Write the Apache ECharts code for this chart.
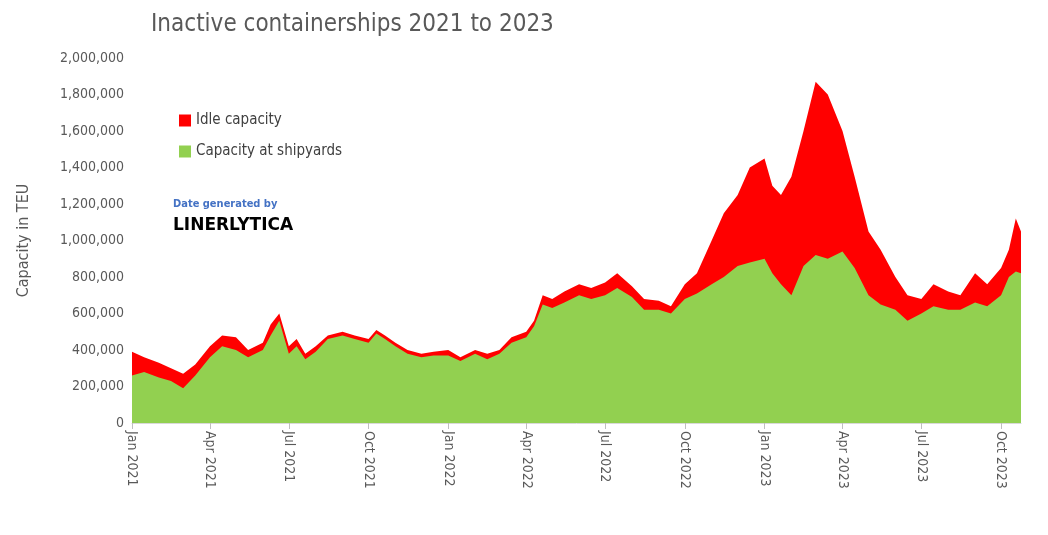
<!DOCTYPE html>
<html><head><meta charset="utf-8">
<script src="https://cdn.jsdelivr.net/npm/echarts@6/dist/echarts.min.js"></script>
<style>body{margin:0}#c{width:1048px;height:535px}</style></head>
<body><div id="c"></div>
<script>
const dates=["2021-01-01","2021-01-15","2021-02-01","2021-02-15","2021-03-01","2021-03-15","2021-04-01","2021-04-15","2021-05-01","2021-05-15","2021-06-01","2021-06-10","2021-06-20","2021-07-01","2021-07-10","2021-07-20","2021-08-01","2021-08-15","2021-09-01","2021-09-15","2021-10-01","2021-10-10","2021-10-20","2021-11-01","2021-11-15","2021-12-01","2021-12-15","2022-01-01","2022-01-15","2022-02-01","2022-02-15","2022-03-01","2022-03-15","2022-04-01","2022-04-10","2022-04-20","2022-05-01","2022-05-15","2022-06-01","2022-06-15","2022-07-01","2022-07-15","2022-08-01","2022-08-15","2022-09-01","2022-09-15","2022-10-01","2022-10-15","2022-11-01","2022-11-15","2022-12-01","2022-12-15","2023-01-01","2023-01-10","2023-01-20","2023-02-01","2023-02-15","2023-03-01","2023-03-15","2023-04-01","2023-04-15","2023-05-01","2023-05-15","2023-06-01","2023-06-15","2023-07-01","2023-07-15","2023-08-01","2023-08-15","2023-09-01","2023-09-15","2023-10-01","2023-10-10","2023-10-18","2023-10-24"];
const totalK=[390,360,330,300,270,320,420,480,470,400,440,540,600,420,460,380,420,480,500,480,460,510,480,440,400,380,390,400,360,400,380,400,470,500,560,700,680,720,760,740,770,820,750,680,670,640,760,820,1000,1150,1250,1400,1450,1300,1250,1350,1600,1870,1800,1600,1350,1050,950,800,700,680,760,720,700,820,760,850,950,1120,1050];
const shipyardK=[260,280,250,230,190,260,360,420,400,360,400,480,560,380,420,350,390,460,480,460,440,490,460,420,380,360,370,370,340,380,350,380,440,470,530,650,630,660,700,680,700,740,690,620,620,600,680,710,760,800,860,880,900,820,760,700,860,920,900,940,850,700,650,620,560,600,640,620,620,660,640,700,800,830,820];
const tickDates=["2021-01-01","2021-04-01","2021-07-01","2021-10-01","2022-01-01","2022-04-01","2022-07-01","2022-10-01","2023-01-01","2023-04-01","2023-07-01","2023-10-01"];
const M=["Jan","Feb","Mar","Apr","May","Jun","Jul","Aug","Sep","Oct","Nov","Dec"];
const ts=d=>Date.parse(d+"T00:00:00Z");
const green=dates.map((d,i)=>[ts(d),shipyardK[i]*1000]);
const total=dates.map((d,i)=>[ts(d),totalK[i]*1000]);
const font="'DejaVu Sans Condensed',sans-serif";
const ch=echarts.init(document.getElementById('c'));
ch.setOption({
 animation:false,
 title:{text:"Inactive containerships 2021 to 2023",left:146,top:8,textStyle:{fontFamily:font,fontSize:24,fontWeight:'normal',color:'#595959'}},
 legend:{left:174,top:108,orient:'vertical',itemGap:16,itemWidth:12,itemHeight:12,icon:'rect',
   data:["Idle capacity","Capacity at shipyards"],textStyle:{fontFamily:font,fontSize:15,color:'#404040'}},
 graphic:[{type:'text',left:173,top:199,style:{text:"Date generated by",fill:'#4472c4',font:"bold 11px "+font}},
  {type:'text',left:173,top:217,style:{text:"LINERLYTICA",fill:'#000',font:"bold 17px 'DejaVu Sans',sans-serif"}}],
 grid:{left:132,right:27,top:58,bottom:112},
 xAxis:{type:'value',min:ts("2021-01-01"),max:ts("2023-10-24"),
  axisLine:{lineStyle:{color:'#d9d9d9'}},splitLine:{show:false},
  axisTick:{show:true,customValues:tickDates.map(ts),length:6,lineStyle:{color:'#bfbfbf'}},
  axisLabel:{customValues:tickDates.map(ts),rotate:-90,fontFamily:font,fontSize:14,color:'#595959',
   formatter:v=>{const d=new Date(v);return M[d.getUTCMonth()]+" "+d.getUTCFullYear();}}},
 yAxis:{type:'value',min:0,max:2000000,interval:200000,name:"Capacity in TEU",nameLocation:'middle',nameGap:100,
  nameTextStyle:{fontFamily:font,fontSize:16,color:'#595959'},
  splitLine:{show:false},axisLine:{show:false},axisTick:{show:false},
  axisLabel:{fontFamily:font,fontSize:14,color:'#595959',formatter:v=>v.toLocaleString('en-US')}},
 series:[
  {name:"Idle capacity",type:'line',data:total,symbol:'none',lineStyle:{width:0},areaStyle:{color:'#ff0000',opacity:1},itemStyle:{color:'#ff0000'}},
  {name:"Capacity at shipyards",type:'line',data:green,symbol:'none',lineStyle:{width:0},areaStyle:{color:'#92d050',opacity:1},itemStyle:{color:'#92d050'}}
 ]
});
</script></body></html>
